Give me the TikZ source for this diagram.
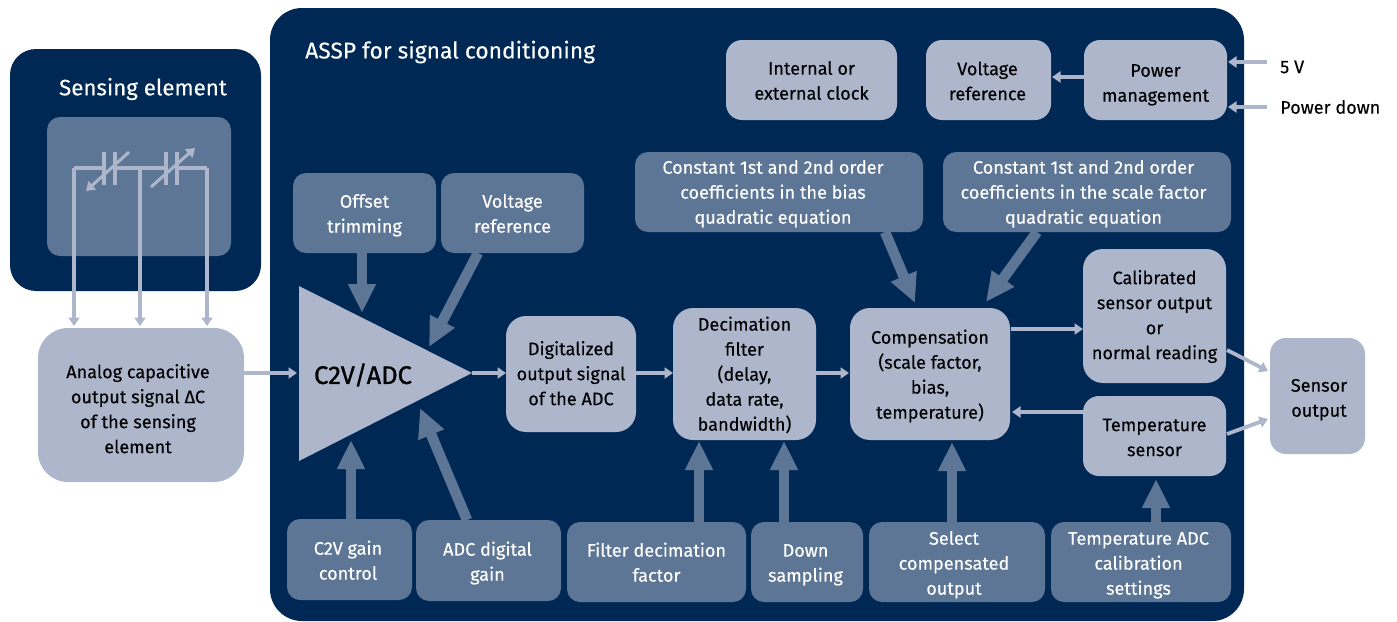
\documentclass[tikz,border=0pt]{standalone}
\usepackage{fontspec}
\setmainfont{Fira Sans}
\usetikzlibrary{arrows.meta,calc}
\definecolor{navy}{HTML}{002855}
\definecolor{midb}{HTML}{5E7696}
\definecolor{lightb}{HTML}{ADB6CB}
\def\stkdx{0}
\newcommand\stk[2]{\sbox0{\begin{tabular}{@{}c@{}}#2\end{tabular}}\kern\stkdx pt\raisebox{\dimexpr(\dp0-\ht0)/2-#1pt-6pt\relax}[0pt][0pt]{\box0}}
\newcommand\bx[7][0]{\node[#3,minimum width={(#6)-(#4)},minimum height={(#7)-(#5)}] (#2) at ({((#4)+(#6))/2},{((#5)+(#7))/2}) {\stk{#1}{\bxtext}};}
\newcommand\bxx[8][0]{\def\bxtext{#8}\bx[#1]{#2}{#3}{#4}{#5}{#6}{#7}}
\tikzset{
  base/.style={inner sep=0pt,outer sep=0pt,font=\fontsize{18.1}{25}\selectfont\addfontfeature{FakeBold=0.2}},
  lbox/.style={base,fill=lightb,text=black,rounded corners=16pt},
  mbox/.style={base,fill=midb,text=white,rounded corners=13pt},
  outer/.style={base,fill=navy,rounded corners=26pt},
  thin link/.style={draw=lightb,line width=3.8pt,-{Triangle[width=11pt,length=8.5pt]}},
  fat link/.style={draw=midb,line width=10.5pt,-{Triangle[width=26pt,length=29pt]}},
  wire/.style={draw=lightb,line width=3.6pt},
  lab/.style={inner sep=0pt,font=\fontsize{18.1}{25}\selectfont\addfontfeature{FakeBold=0.2}},
}
\begin{document}
\begin{tikzpicture}[x=1pt,y=-1pt]
\useasboundingbox (0,0) rectangle (1397,621);
% containers
\bxx{sens}{outer}{10}{49}{261}{291}{}
\bxx{senin}{mbox}{47}{117}{231}{256}{}
\bxx{assp}{outer,rounded corners=32pt}{270}{8}{1244}{621}{}
\node[inner sep=0pt,text=white,font=\fontsize{22.3}{25}\selectfont\addfontfeature{FakeBold=0.2}] (senst) at (143,89) {Sensing element};
\node[inner sep=0pt,text=white,anchor=west,font=\fontsize{22.8}{25}\selectfont\addfontfeature{FakeBold=0.2}] (asspt) at (305,52) {ASSP for signal conditioning};
% light boxes
\bxx[0.5]{clock}{lbox}{726}{40}{897}{120}{Internal or\\external clock}
\def\stkdx{-2}
\bxx[1]{vref}{lbox}{926}{40}{1051}{120}{Voltage\\reference}
\def\stkdx{0}
\bxx[2.5]{power}{lbox}{1084}{40}{1227}{120}{Power\\management}
\bxx[-1]{calib}{lbox,rounded corners=20pt}{1083}{249}{1226}{383}{Calibrated\\sensor output\\or\\normal reading}
\bxx[1]{temps}{lbox}{1083}{396}{1226}{476}{Temperature\\sensor}
\def\stkdx{3}
\bxx[1.5]{sout}{lbox}{1270}{338}{1365}{454}{Sensor\\output}
\def\stkdx{0}
\bxx[0.5]{comp}{lbox,rounded corners=20pt}{850}{308}{1010}{440}{Compensation\\(scale factor,\\bias,\\temperature)}
\bxx{deci}{lbox,rounded corners=20pt}{673}{308}{816}{440}{Decimation\\filter\\(delay,\\data rate,\\bandwidth)}
\bxx[-0.5]{digi}{lbox,rounded corners=20pt}{506}{316}{636}{432}{Digitalized\\output signal\\of the ADC}
\def\stkdx{-6}
\bxx[4]{analog}{lbox,rounded corners=30pt}{38}{328}{244}{482}{Analog capacitive\\output signal ΔC\\of the sensing\\element}
\def\stkdx{0}
% medium boxes
\bxx[0.5]{offs}{mbox}{293}{173}{436}{253}{Offset\\trimming}
\bxx[0.5]{vrefb}{mbox}{441}{173}{584}{253}{Voltage\\reference}
\def\stkdx{-12}
\bxx{cona}{mbox}{635}{152}{923}{232}{Constant 1st and 2nd order\\coefficients in the bias\\quadratic equation}
\def\stkdx{-7}
\bxx{conb}{mbox}{943}{152}{1231}{232}{Constant 1st and 2nd order\\coefficients in the scale factor\\quadratic equation}
\def\stkdx{-3}
\bxx[1]{gain}{mbox}{287}{519}{412}{600}{C2V gain\\control}
\def\stkdx{-2}
\bxx[1]{adcg}{mbox}{416}{520}{561}{601}{ADC digital\\gain}
\def\stkdx{0}
\bxx[0.5]{filt}{mbox}{567}{522}{746}{602}{Filter decimation\\factor}
\def\stkdx{-3}
\bxx[0.5]{down}{mbox}{751}{522}{863}{602}{Down\\sampling}
\def\stkdx{-6}
\bxx[1]{sel}{mbox}{869}{522}{1045}{602}{Select\\compensated\\output}
\def\stkdx{-5}
\bxx[1]{tadc}{mbox}{1051}{522}{1231}{602}{Temperature ADC\\calibration\\settings}
\def\stkdx{0}
% triangle
\coordinate (ta) at (299,286);
\coordinate (tb) at (299,461);
\coordinate (tc) at (472,373);
\fill[lightb] (ta) -- (tc) -- (tb) -- cycle;
\node[inner sep=0pt,font=\fontsize{25.5}{25}\selectfont\addfontfeature{FakeBold=1}] (tri) at (363,375) {C2V/ADC};
% free text
\node[lab,anchor=west] (fv) at (1280,67) {5 V};
\node[lab,anchor=west] (pd) at (1280,107) {Power down};
% thin links
\coordinate (tl) at (297,373);
\draw[thin link] (analog.east|-tl) -- (tl);
\draw[thin link] (tc) -- (digi.west|-tc);
\draw[thin link] (digi.east|-tc) -- (deci.west|-tc);
\draw[thin link] (deci.east|-tc) -- ($(comp.west|-tc)+(-1,0)$);
\coordinate (ca) at (1011,329);
\draw[thin link] (ca) -- (calib.west|-ca);
\coordinate (cb) at (1083,412);
\draw[thin link] (cb) -- ($(comp.east|-cb)+(2,0)$);
\coordinate (cs1) at (1227,350);
\coordinate (cs2) at (1268,371);
\draw[thin link] (cs1) -- (cs2);
\coordinate (cs3) at (1227,434);
\coordinate (cs4) at (1268,419);
\draw[thin link] (cs3) -- (cs4);
\coordinate (pv) at (1084,77);
\draw[thin link] (pv) -- ($(vref.east|-pv)+(1,0)$);
\coordinate (fa) at (1267,62);
\draw[thin link] (fa) -- ($(power.east|-fa)+(1,0)$);
\coordinate (fb) at (1267,107);
\draw[thin link] (fb) -- ($(power.east|-fb)+(1,0)$);
% fat links
\coordinate (o1) at (362,253); \coordinate (o2) at (362,313);
\draw[fat link] (o1) -- (o2);
\coordinate (v1) at (478,253); \coordinate (v2) at (429,347);
\draw[fat link] (v1) -- (v2);
\coordinate (g1) at (351,519); \coordinate (g2) at (351,440);
\draw[fat link] (g1) -- (g2);
\coordinate (a1) at (467,520); \coordinate (a2) at (420,408);
\draw[fat link] (a1) -- (a2);
\coordinate (f1) at (699,522); \coordinate (f2) at (699,441);
\draw[fat link] (f1) -- (f2);
\coordinate (d1) at (784,522); \coordinate (d2) at (784,441);
\draw[fat link] (d1) -- (d2);
\coordinate (s1) at (952,522); \coordinate (s2) at (952,442);
\draw[fat link] (s1) -- (s2);
\coordinate (t1) at (1156,522); \coordinate (t2) at (1156,479);
\draw[fat link] (t1) -- (t2);
\coordinate (k1) at (885,232); \coordinate (k2) at (915,303);
\draw[fat link] (k1) -- (k2);
\coordinate (m1) at (1037,232); \coordinate (m2) at (986,302);
\draw[fat link] (m1) -- (m2);
% capacitors
\coordinate (w1) at (74,168);
\coordinate (w2) at (140,168);
\coordinate (w3) at (207,168);
\coordinate (p1) at (104,168);
\coordinate (p2) at (115,168);
\coordinate (p3) at (166,168);
\coordinate (p4) at (177,168);
\draw[wire] (p1) -- (w1);
\draw[wire] (p2) -- (p3);
\draw[wire] (p4) -- (w3);
\draw[thin link,shorten >=2pt] (w1) -- (w1|-analog.north);
\draw[thin link,shorten >=2pt] (w2) -- (w2|-analog.north);
\draw[thin link,shorten >=2pt] (w3) -- (w3|-analog.north);
\foreach \x in {104,115,166,177}{
  \draw[wire] (\x,152) -- (\x,185);
}
\coordinate (c1) at (129,152); \coordinate (c2) at (86,191);
\draw[thin link,line width=3pt] (c1) -- (c2);
\coordinate (c3) at (151,187); \coordinate (c4) at (195,148);
\draw[thin link,line width=3pt] (c3) -- (c4);
\end{tikzpicture}
\end{document}
